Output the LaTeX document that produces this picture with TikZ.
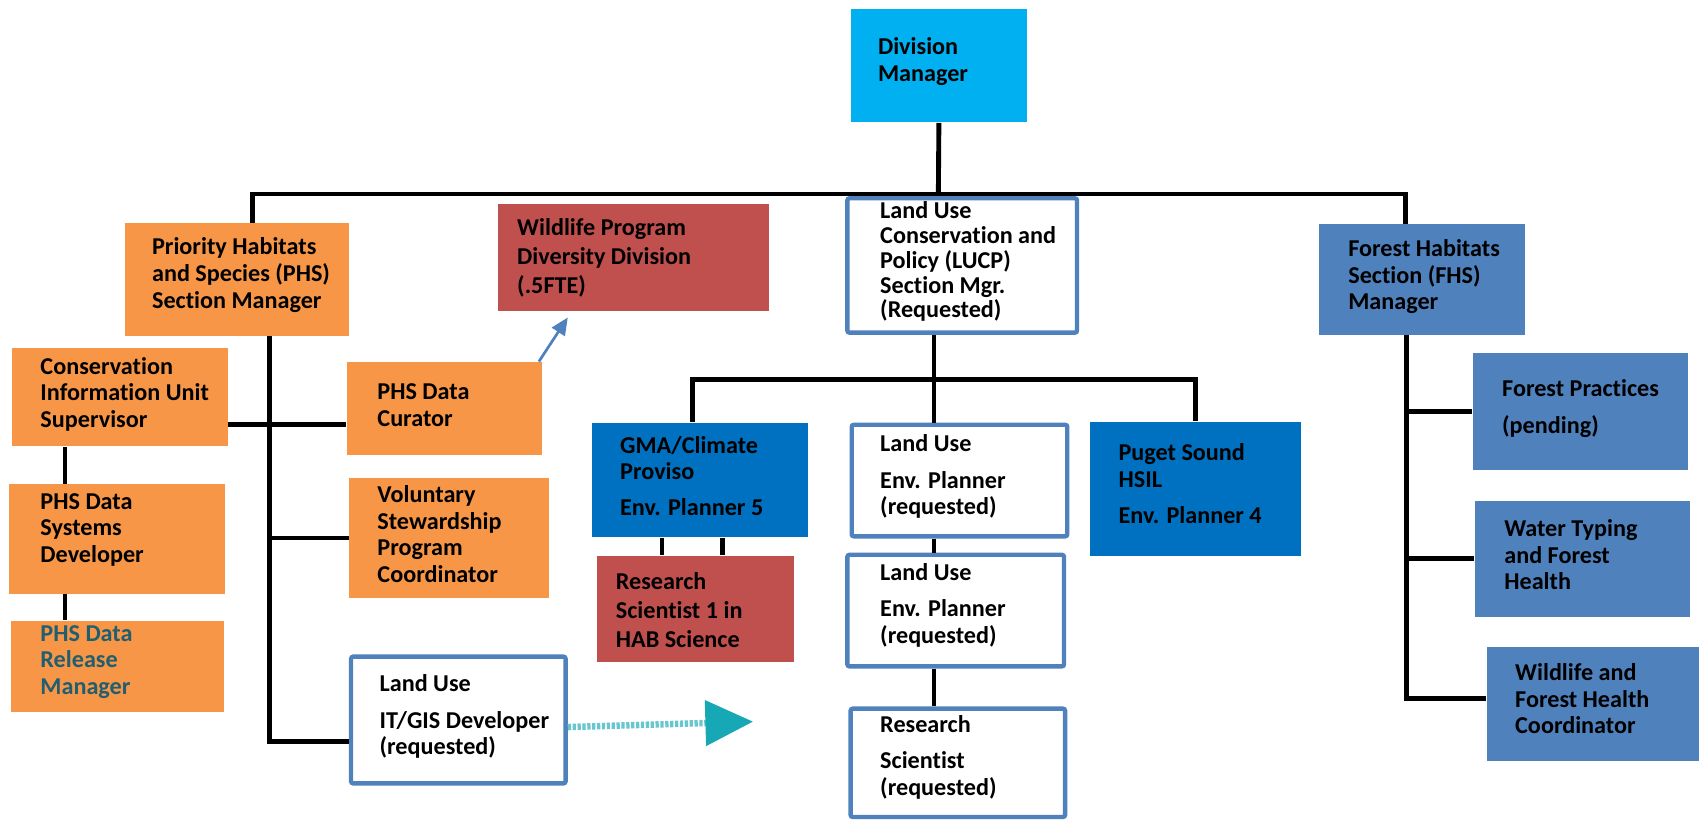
\documentclass[tikz,border=0pt]{standalone}
\usepackage{fontspec}
\setmainfont{Carlito}[Ligatures=NoCommon]
\usepackage{xcolor}
\usetikzlibrary{arrows.meta}
\definecolor{divblue}{RGB}{0,176,240}
\definecolor{phsorange}{RGB}{247,150,70}
\definecolor{wildred}{RGB}{192,80,77}
\definecolor{steelblue}{RGB}{79,129,189}
\definecolor{planblue}{RGB}{0,112,192}
\definecolor{releaseteal}{RGB}{33,94,112}
\definecolor{arrowteal}{RGB}{23,168,181}

\tikzset{
  unitbox/.style={inner sep=0pt},
  reqbox/.style={draw=steelblue, line width=0.8mm, fill=white, rounded corners=0.4mm, inner sep=0pt},
  boxsize/.style 2 args={minimum width=#1*0.2mm, minimum height=#2*0.2mm},
  boxtext/.style={anchor=west, align=left, inner sep=0pt, font=\fontsize{12.7}{14}\selectfont\bfseries},
  orgline/.style={line width=0.9mm, black},
}

\begin{document}
\begin{tikzpicture}[x=0.2mm, y=-0.2mm]
    \useasboundingbox (0,0) rectangle (1568,756);

    % Division level
    \node[unitbox, fill=divblue, boxsize={163}{105}] (dm) at (866.5,60.5) {};
    \node[boxtext] (dm-t) at (810,57) {Division\\Manager};

    % Section managers
    \node[unitbox, fill=phsorange, boxsize={207}{104}] (phs) at (218.5,258) {};
    \node[boxtext] (phs-t) at (140,254) {Priority Habitats\\and Species (PHS)\\Section Manager};
    \node[unitbox, fill=wildred, boxsize={250}{99}] (wpd) at (585,237.5) {};
    \node[boxtext, font=\fontsize{12.7}{15}\selectfont\bfseries] (wpd-t) at (477,238) {Wildlife Program\\Diversity Division\\(.5FTE)};
    \node[reqbox, boxsize={212}{124}] (lucp) at (888,245) {};
    \node[boxtext, font=\fontsize{12.7}{13}\selectfont\bfseries] (lucp-t) at (812,241.5) {Land Use\\Conservation and\\Policy (LUCP)\\Section Mgr.\\(Requested)};
    \node[unitbox, fill=steelblue, boxsize={190}{102}] (fhs) at (1312,258) {};
    \node[boxtext] (fhs-t) at (1244,255.5) {Forest Habitats\\Section (FHS)\\Manager};

    % PHS section
    \node[unitbox, fill=phsorange, boxsize={199}{91}] (cius) at (110.5,366.5) {};
    \node[boxtext] (cius-t) at (37,364) {Conservation\\Information Unit\\Supervisor};
    \node[unitbox, fill=phsorange, boxsize={180}{86}] (cur) at (410,377) {};
    \node[boxtext] (cur-t) at (348,374) {PHS Data\\Curator};
    \node[unitbox, fill=phsorange, boxsize={185}{111}] (vsp) at (414.5,496.5) {};
    \node[boxtext] (vsp-t) at (348,493) {Voluntary\\Stewardship\\Program\\Coordinator};
    \node[unitbox, fill=phsorange, boxsize={200}{101}] (dsd) at (108,497.5) {};
    \node[boxtext] (dsd-t) at (37,489) {PHS Data\\Systems\\Developer};
    \node[unitbox, fill=phsorange, boxsize={197}{84}] (rel) at (108.5,615) {};
    \node[boxtext, text=releaseteal] (rel-t) at (37,611) {PHS Data\\Release\\Manager};
    \node[reqbox, boxsize={198}{117}] (itg) at (423,664.5) {};
    \node[boxtext] (itg-t) at (350,661.5) {Land Use\\[5pt]IT/GIS Developer\\(requested)};

    % LUCP section
    \node[unitbox, fill=planblue, boxsize={200}{106}] (gma) at (646,443) {};
    \node[boxtext] (gma-t) at (572,439) {GMA/Climate\\Proviso\\[4.5pt]Env. Planner 5};
    \node[unitbox, fill=wildred, boxsize={182}{98}] (rs1) at (642,562) {};
    \node[boxtext, font=\fontsize{12.7}{15.3}\selectfont\bfseries] (rs1-t) at (568,563) {Research\\Scientist 1 in\\HAB Science};
    \node[reqbox, boxsize={199}{103}] (lep1) at (885.5,443.5) {};
    \node[boxtext] (lep1-t) at (812,440) {Land Use\\[5pt]Env. Planner\\(requested)};
    \node[reqbox, boxsize={200}{103}] (lep2) at (882,563.5) {};
    \node[boxtext] (lep2-t) at (812,558.5) {Land Use\\[5pt]Env. Planner\\(requested)};
    \node[reqbox, boxsize={198}{100}] (rsr) at (884,704) {};
    \node[boxtext] (rsr-t) at (812,699) {Research\\[5pt]Scientist\\(requested)};
    \node[unitbox, fill=planblue, boxsize={195}{124}] (pug) at (1103.5,451) {};
    \node[boxtext] (pug-t) at (1032,446.5) {Puget Sound\\HSIL\\[5pt]Env. Planner 4};

    % FHS section
    \node[unitbox, fill=steelblue, boxsize={199}{108}] (fp) at (1458.5,380) {};
    \node[boxtext] (fp-t) at (1386,377) {Forest Practices\\[5pt](pending)};
    \node[unitbox, fill=steelblue, boxsize={199}{107}] (wt) at (1460.5,515.5) {};
    \node[boxtext] (wt-t) at (1388,512) {Water Typing\\and Forest\\Health};
    \node[unitbox, fill=steelblue, boxsize={196}{105}] (wfh) at (1470,649.5) {};
    \node[boxtext] (wfh-t) at (1398,645) {Wildlife and\\Forest Health\\Coordinator};

    % Junction points
    \coordinate (barL) at (233,179);
    \coordinate (barM) at (866,179);
    \coordinate (barR) at (1297,179);
    \coordinate (phsT) at (249,684);
    \coordinate (curY) at (320,392);
    \coordinate (leftcol) at (60,412);
    \coordinate (subL) at (639,350);
    \coordinate (subM) at (862,350);
    \coordinate (subR) at (1103,350);
    \coordinate (habL) at (611,504);
    \coordinate (habR) at (667,504);
    \coordinate (fhsT) at (1298,645);
    \coordinate (wpdtip) at (524,293);
    \coordinate (tealtip) at (695,666);

    % Top bar
    \draw[orgline] (dm.south) -- (barM);
    \draw[orgline] (phs.north -| barL) -- (barL) -- (barR) -- (fhs.north -| barR);

    % PHS lines
    \draw[orgline] (phs.south -| phsT) -- (phsT) -- (itg.west |- phsT);
    \draw[orgline] (cius.east |- curY) -- (cur.west |- curY);
    \draw[orgline] (vsp.west) -- (vsp.west -| phsT);
    \draw[orgline] (cius.south -| leftcol) -- (dsd.north -| leftcol);
    \draw[orgline] (dsd.south -| leftcol) -- (rel.north -| leftcol);

    % LUCP lines
    \draw[orgline] (lucp.south -| subM) -- (lep1.north -| subM);
    \draw[orgline] (gma.north -| subL) -- (subL) -- (subR) -- (pug.north -| subR);
    \draw[orgline] (lep1.south -| subM) -- (lep2.north -| subM);
    \draw[orgline] (lep2.south -| subM) -- (rsr.north -| subM);
    \draw[orgline] (gma.south -| habL) -- (rs1.north -| habL);
    \draw[orgline] (gma.south -| habR) -- (rs1.north -| habR);

    % FHS lines
    \draw[orgline] (fhs.south -| fhsT) -- (fhsT) -- (wfh.west |- fhsT);
    \draw[orgline] (fp.west) -- (fp.west -| fhsT);
    \draw[orgline] (wt.west) -- (wt.west -| fhsT);

    % Arrows
    \draw[steelblue, line width=0.5mm, -{Triangle[length=3.2mm, width=2.8mm]}] ([xshift=-0.6mm]cur.north east) -- (wpdtip);
    \draw[arrowteal!65, line width=1.2mm, dash pattern=on 0.6mm off 0.3mm, -{Triangle[length=8.8mm, width=8.2mm, color=arrowteal]}] ([yshift=-1.3mm]itg.east) -- (tealtip);
\end{tikzpicture}
\end{document}
